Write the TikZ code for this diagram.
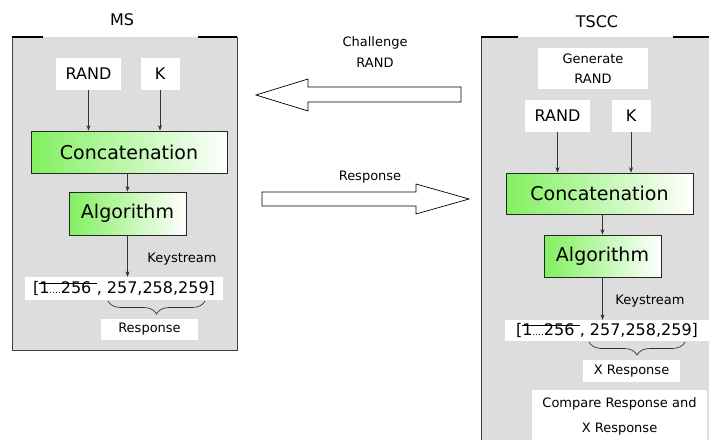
\documentclass[tikz,border=0pt]{standalone}
\usepackage{fontspec}
\setmainfont{DejaVu Sans}
\usepackage{xcolor}
\usepackage{tikz}
\usetikzlibrary{arrows.meta,positioning,decorations.pathreplacing}

\definecolor{panelgray}{RGB}{221,221,221}
\definecolor{algogreen}{RGB}{130,240,95}
\newsavebox{\strkbox}
\newcommand{\strk}[1]{\sbox{\strkbox}{#1}\rlap{\rule[0.62em]{\wd\strkbox}{0.7pt}}\usebox{\strkbox}}
\newcommand{\bigfont}{\fontsize{19}{22}\selectfont}
\newcommand{\midfont}{\fontsize{16}{19}\selectfont}
\newcommand{\smallfont}{\fontsize{13}{20.5}\selectfont}

\begin{document}
\begin{tikzpicture}[
		x=1pt,y=-1pt,
		panel/.style={
			fill=panelgray,
			draw=black!75,
			line width=1pt
		},
		topline/.style={
			draw=black,
			line width=1.5pt
		},
		whitebox/.style={
			rectangle,
			fill=white,
			inner sep=0pt,
			align=center
		},
		algobox/.style={
			rectangle,
			draw=black!85,
			line width=0.7pt,
			left color=algogreen,
			right color=white,
			inner sep=0pt,
			font=\bigfont
		},
		arrow/.style={
			-{Stealth[length=5.5pt,width=4pt]},
			draw=black!80,
			line width=0.6pt
		},
		bigarrow/.style={
			draw=black,
			line width=0.7pt,
			fill=white
		},
		bracket/.style={
			decorate,
			decoration={brace,mirror,amplitude=13pt},
			draw=black!80,
			line width=0.7pt
		}
		]
		
		\useasboundingbox (0,0) rectangle (709,439);
		
		% MS side
		\path[panel] (237,37) -- (237,350) -- (12,350) -- (12,37);
		\draw[topline] (12,37) -- (43,37);
		\draw[topline] (198,37) -- (237,37);
		\node[font=\midfont] (mstitle) at (122,20) {MS};
		
		\node[whitebox, font=\midfont, minimum width=65pt, minimum height=32pt] (msrand) at (88.5,74) {RAND};
		\node[whitebox, font=\midfont, minimum width=39pt, minimum height=32pt] (msk) at (160,74) {K};
		\node[algobox, minimum width=196pt, minimum height=42pt] (msconcat) at (129,152) {Concatenation};
		\node[algobox, minimum width=117pt, minimum height=43pt] (msalgo) at (127.5,213.5) {Algorithm};
		\node[font=\smallfont] (mskey) at (182,259) {Keystream};
		\node[whitebox, font=\midfont, minimum width=198pt, minimum height=23pt] (msstream) at (124,288.5)
		{[\strk{1{\fontsize{9}{9}\selectfont....}256\,\,}, 257,258,259]};
		\node[whitebox, font=\smallfont, minimum width=97pt, minimum height=21pt] (msresp) at (149.5,329.5) {Response};
		
		\draw[arrow] (msrand.south) -- (msrand.south |- msconcat.north);
		\draw[arrow] (msk.south) -- (msk.south |- msconcat.north);
		\draw[arrow] (msconcat.south -| msalgo) -- (msalgo.north);
		\draw[arrow] (msalgo.south) -- (msalgo.south |- msstream.north);
		\draw[bracket] (108,301) -- (205,301);
		
		% messages
		\node[font=\smallfont, align=center] (challenge) at (375,52) {Challenge\\RAND};
		\draw[bigarrow] (461,87) -- (308,87) -- (308,79) -- (256,95) -- (308,111) -- (308,102) -- (461,102) -- cycle;
		\node[font=\smallfont] (respmsg) at (370,177) {Response};
		\draw[bigarrow] (262,192) -- (416,192) -- (416,184) -- (469,199) -- (416,214) -- (416,206) -- (262,206) -- cycle;
		
		% TSCC side
		\fill[panelgray] (481,37) rectangle (715,445);
		\draw[panel, fill=none] (481,445) -- (481,37);
		\draw[topline] (481,37) -- (518,37);
		\draw[topline] (673,37) -- (709,37);
		\node[font=\midfont] (tscctitle) at (597,22) {TSCC};
		
		\node[whitebox, font=\smallfont, minimum width=110pt, minimum height=41pt] (gen) at (593,68.5) {Generate\\RAND};
		\node[whitebox, font=\midfont, minimum width=65pt, minimum height=32pt] (tsrand) at (557.5,116) {RAND};
		\node[whitebox, font=\midfont, minimum width=39pt, minimum height=32pt] (tsk) at (631,116) {K};
		\node[algobox, minimum width=187pt, minimum height=41pt] (tsconcat) at (599.5,193.5) {Concatenation};
		\node[algobox, minimum width=117pt, minimum height=42pt] (tsalgo) at (602.5,256) {Algorithm};
		\node[font=\smallfont] (tskey) at (650,301) {Keystream};
		\node[whitebox, font=\midfont, minimum width=204pt, minimum height=21pt] (tsstream) at (607,330.5)
		{[\strk{1{\fontsize{9}{9}\selectfont....}256\,\,}, 257,258,259]};
		\node[whitebox, font=\smallfont, minimum width=97pt, minimum height=22pt] (xresp) at (631.5,371) {X Response};
		\node[whitebox, font=\fontsize{13}{25}\selectfont, minimum width=175pt, minimum height=52pt] (compare) at (619.5,416) {Compare Response and\\X Response};
		
		\draw[arrow] (tsrand.south) -- (tsrand.south |- tsconcat.north);
		\draw[arrow] (tsk.south) -- (tsk.south |- tsconcat.north);
		\draw[arrow] (tsconcat.south -| tsalgo) -- (tsalgo.north);
		\draw[arrow] (tsalgo.south) -- (tsalgo.south |- tsstream.north);
		\draw[bracket] (589,342) -- (685,342);
		
	\end{tikzpicture}
\end{document}
